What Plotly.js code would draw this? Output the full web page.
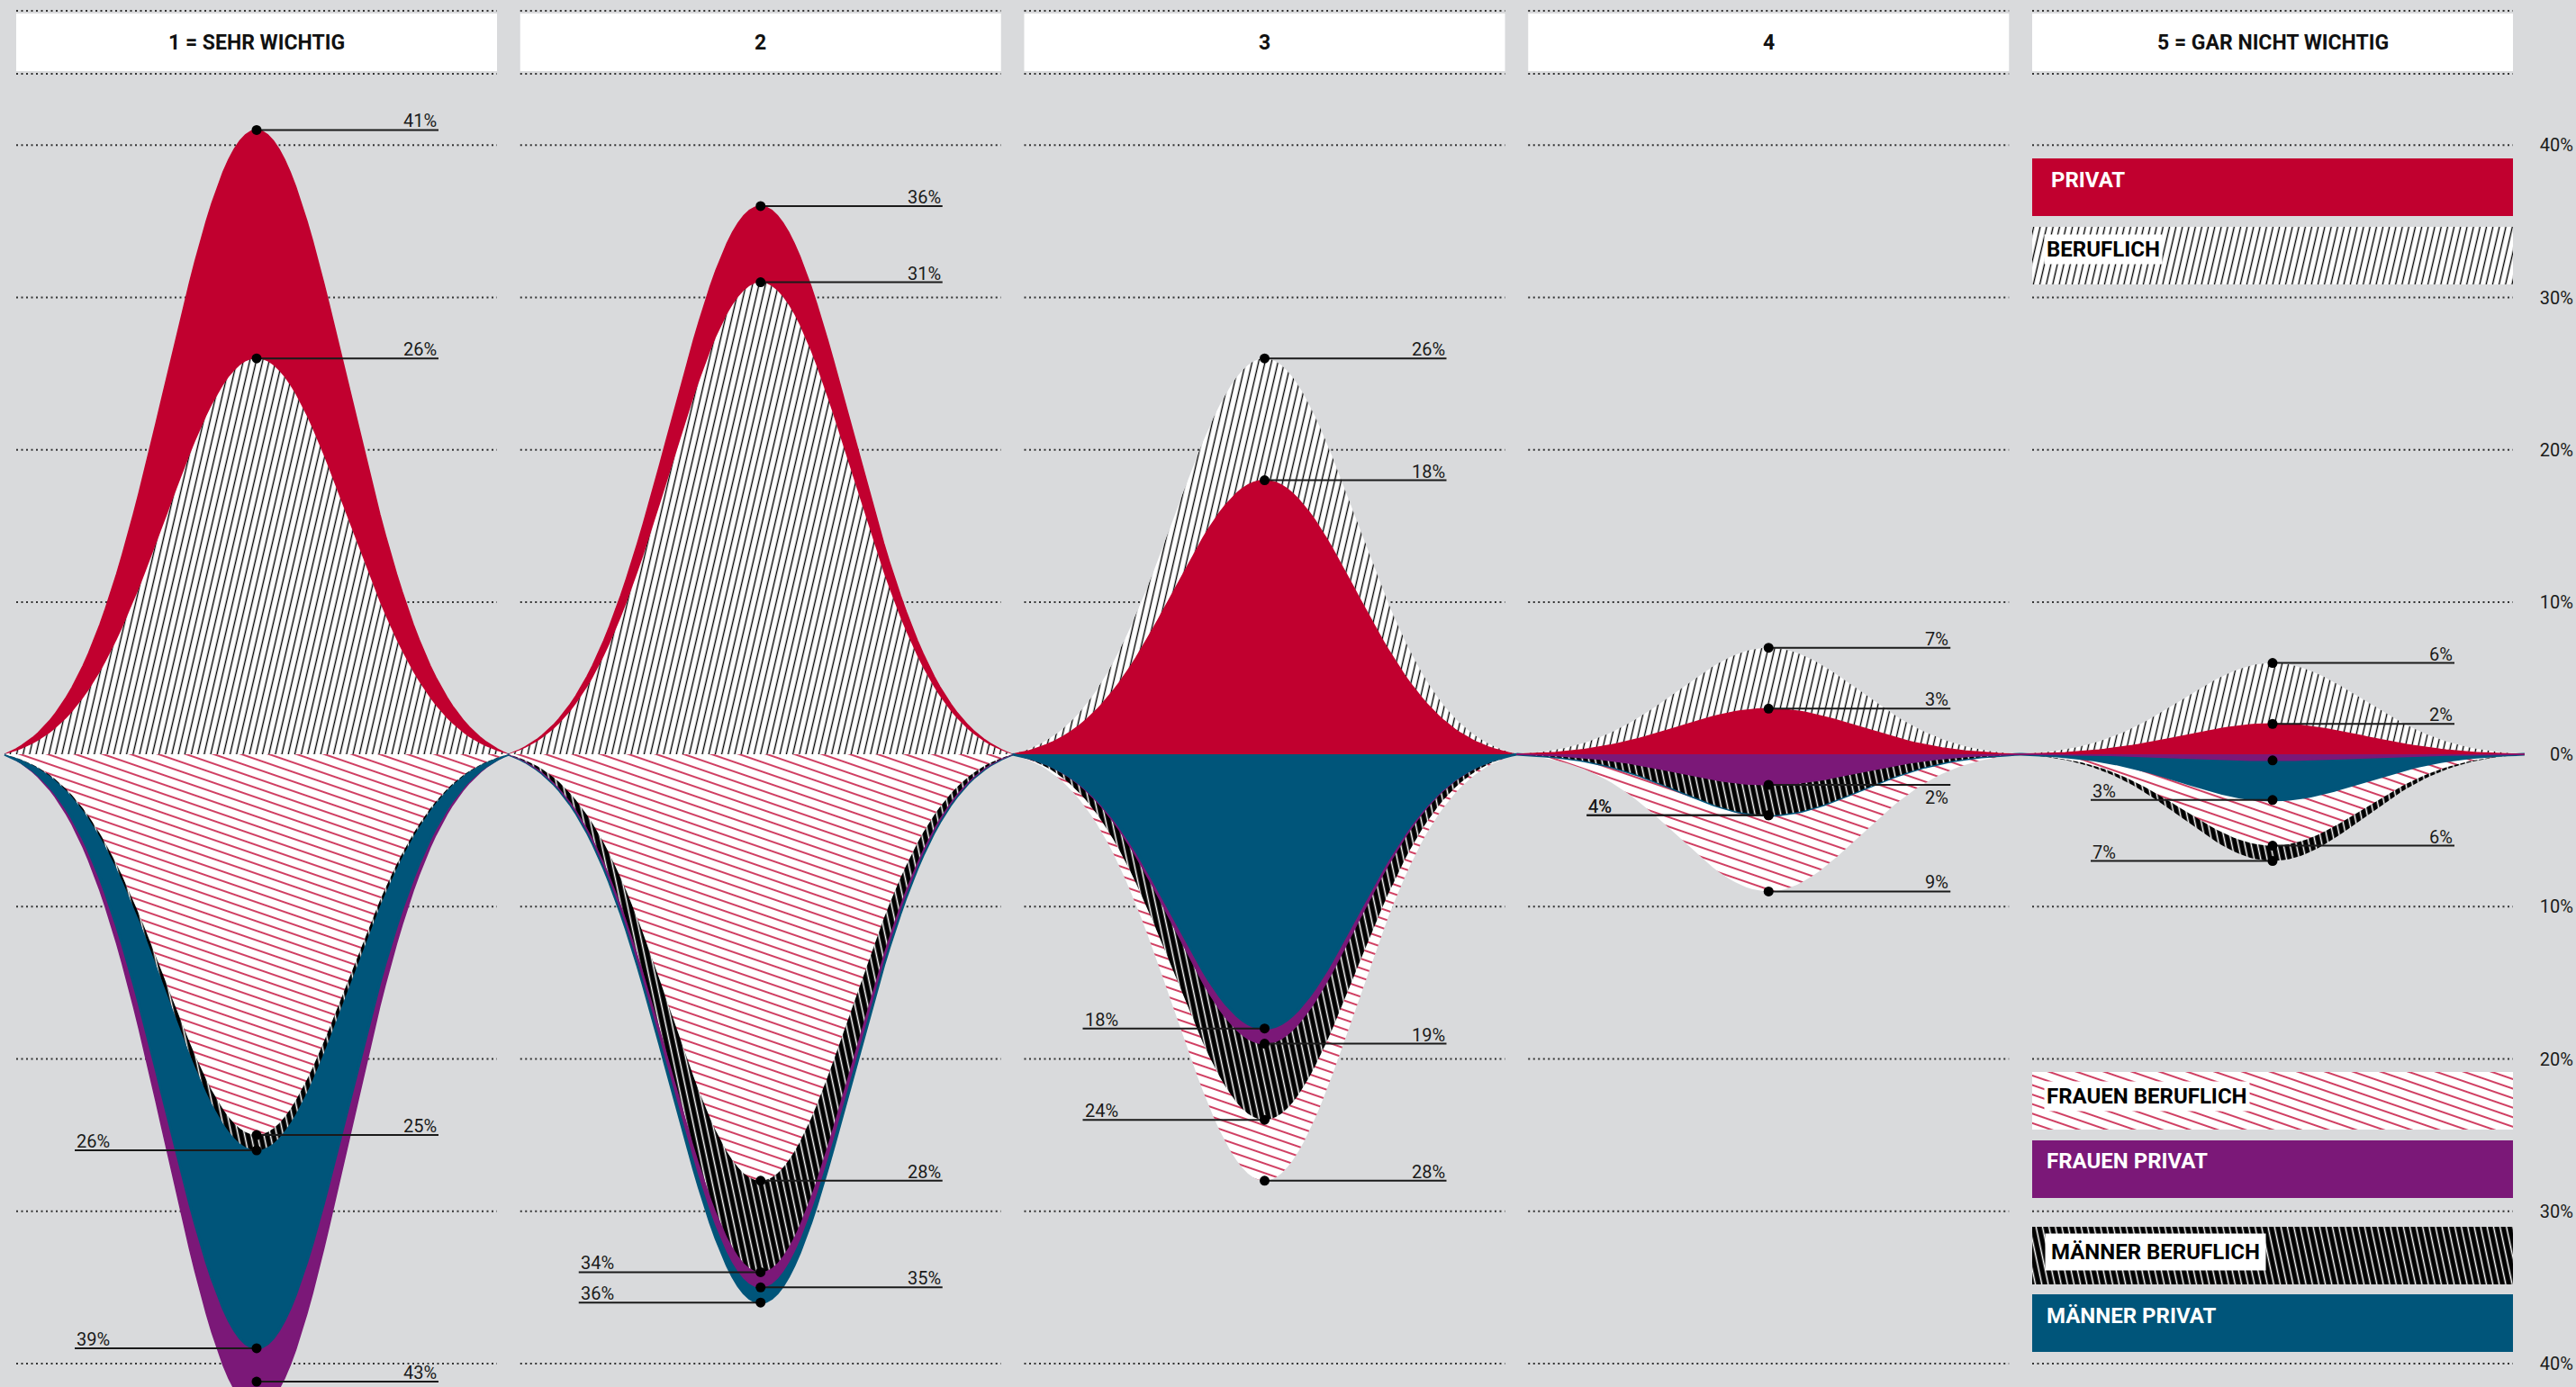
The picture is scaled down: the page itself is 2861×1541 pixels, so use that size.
<!DOCTYPE html>
<html>
<head>
<meta charset="utf-8">
<script src="https://cdn.plot.ly/plotly-3.0.1.min.js"></script>
<style>
html,body{margin:0;padding:0;background:#d9dadc;}
#chart{width:2861px;height:1541px;}
</style>
</head>
<body>
<div id="chart"></div>
<script>
// ---------------- DATA ----------------
const categories = ['1 = SEHR WICHTIG', '2', '3', '4', '5 = GAR NICHT WICHTIG'];
const privat           = [41, 36, 18, 3, 2];
const beruflich        = [26, 31, 26, 7, 6];
const frauenBeruflich  = [25, 28, 28, 9, 6];
const frauenPrivat     = [43, 35, 19, 2, 0.4];
const maennerBeruflich = [26, 34, 24, 4, 7];
const maennerPrivat    = [39, 36, 18, 4, 3];
const tickValues = [40, 30, 20, 10, 0, -10, -20, -30, -40];
const tickLabels = ['40%', '30%', '20%', '10%', '0%', '10%', '20%', '30%', '40%'];
const legendLabels = ['PRIVAT', 'BERUFLICH', 'FRAUEN BERUFLICH', 'FRAUEN PRIVAT', 'MÄNNER BERUFLICH', 'MÄNNER PRIVAT'];

// ---------------- STYLE / LAYOUT ----------------
const W = 2861, H = 1541;
const X1PX = 285, PXPERX = 559.75;      // pixel of category 1, pixels per category
const Y0PX = 838.1, PXPERY = 16.92;     // pixel of 0 %, pixels per percent
const px = p => 1 + (p - X1PX) / PXPERX;
const py = p => (Y0PX - p) / PXPERY;
const xRange = [px(0), px(W)];
const yRange = [py(H), py(0)];
const PANEL_W = 534 / PXPERX;
const LABEL_LEN = 202 / PXPERX;
const FONT = 'Roboto, "Open Sans", "DejaVu Sans", sans-serif';
const RED = '#c1002f', PURPLE = '#7b1878', BLUE = '#00557a', BG = '#d9dadc', INK = '#1a1a1a';

const HATCH_BERUF  = {shape: '|', bgcolor: '#ffffff', fgcolor: '#000000', size: 7, solidity: 0.2, fillmode: 'replace'};
const HATCH_FRAUEN = {shape: '-', bgcolor: '#ffffff', fgcolor: RED, size: 10, solidity: 0.15, fillmode: 'replace'};
const HATCH_MAENNER= {shape: '|', bgcolor: '#000000', fgcolor: '#ffffff', size: 7, solidity: 0.22, fillmode: 'replace'};

const series = [
  {name: legendLabels[0], values: privat,           sign:  1, side: 'right', color: RED,    lineW: 1.5},
  {name: legendLabels[1], values: beruflich,        sign:  1, side: 'right', pattern: HATCH_BERUF},
  {name: legendLabels[2], values: frauenBeruflich,  sign: -1, side: 'right', pattern: HATCH_FRAUEN},
  {name: legendLabels[3], values: frauenPrivat,     sign: -1, side: 'right', color: PURPLE, lineW: 1.5},
  {name: legendLabels[4], values: maennerBeruflich, sign: -1, side: 'left',  pattern: HATCH_MAENNER},
  {name: legendLabels[5], values: maennerPrivat,    sign: -1, side: 'left',  color: BLUE,   lineW: 3}
];
// labels that sit below their leader line: [series index, category index]
const labelsBelow = [[3, 3]];

// bump glyph: a bell shaped outline spanning one category slot
const SIGMA = 0.36, NPTS = 91;
function bump(t) {
  const e1 = Math.exp(-1 / (2 * SIGMA * SIGMA));
  return (Math.exp(-t * t / (2 * SIGMA * SIGMA)) - e1) / (1 - e1);
}

const traces = [];
categories.forEach((cat, ci) => {
  const c = ci + 1;
  const order = series.map((s, si) => si).sort((a, b) => {
    const d = series[b].values[ci] - series[a].values[ci];
    if (d !== 0) return d;
    return (series[a].pattern ? 1 : 0) - (series[b].pattern ? 1 : 0);
  });
  order.forEach(si => {
    const s = series[si];
    const v = s.values[ci];
    const xs = [], ys = [];
    for (let k = 0; k < NPTS; k++) {
      const t = -1 + 2 * k / (NPTS - 1);
      xs.push(c + 0.5 * t);
      ys.push(s.sign * v * bump(t));
    }
    const tr = {
      type: 'scatter', mode: 'lines', x: xs, y: ys, fill: 'tozeroy',
      hoverinfo: 'skip', showlegend: false, name: s.name
    };
    if (s.pattern) {
      tr.line = {width: 0, color: 'rgba(0,0,0,0)'};
      tr.fillcolor = s.pattern.bgcolor;
      tr.fillpattern = Object.assign({}, s.pattern);
    } else {
      tr.line = {width: s.lineW, color: s.color};
      tr.fillcolor = s.color;
    }
    traces.push(tr);
  });
});

// leader lines, dots and value labels
const lx = [], ly = [], dx = [], dy = [];
const annotations = [];
series.forEach((s, si) => {
  s.values.forEach((v, ci) => {
    const c = ci + 1;
    const yv = Math.max(s.sign * v, yRange[0] + 0.35);
    dx.push(c); dy.push(yv);
    if (v < 1) return;
    const xe = s.side === 'right' ? c + LABEL_LEN : c - LABEL_LEN;
    lx.push(c, xe, null); ly.push(yv, yv, null);
    const below = labelsBelow.some(p => p[0] === si && p[1] === ci);
    annotations.push({
      x: xe, y: yv, xref: 'x', yref: 'y', text: v + '%', showarrow: false,
      xanchor: s.side === 'right' ? 'right' : 'left',
      yanchor: below ? 'top' : 'bottom', yshift: below ? 0 : -4,
      font: {family: FONT, size: 20, color: INK}
    });
  });
});
traces.push({type: 'scatter', mode: 'lines', x: lx, y: ly, line: {color: INK, width: 2},
  hoverinfo: 'skip', showlegend: false, cliponaxis: false});
traces.push({type: 'scatter', mode: 'markers', x: dx, y: dy, marker: {color: '#000', size: 11},
  hoverinfo: 'skip', showlegend: false, cliponaxis: false});

// legend boxes (in the 5th column)
const legendBoxes = [
  {top: 176, bottom: 240, textY: 200, textX: 2276, fill: RED, textColor: '#fff'},
  {top: 252, bottom: 316, textY: 277, textX: 2270, pattern: HATCH_BERUF, textColor: '#000', textBg: '#fff', pad: 2},
  {top: 1191, bottom: 1255, textY: 1218, textX: 2270, pattern: HATCH_FRAUEN, textColor: '#000', textBg: '#fff', pad: 2},
  {top: 1267, bottom: 1331, textY: 1290, textX: 2271, fill: PURPLE, textColor: '#fff'},
  {top: 1363, bottom: 1427, textY: 1391, textX: 2271, pattern: HATCH_MAENNER, textColor: '#000', textBg: '#fff', pad: 6},
  {top: 1438, bottom: 1502, textY: 1462, textX: 2271, fill: BLUE, textColor: '#fff'}
];
const lastC = categories.length;
legendBoxes.forEach((b, i) => {
  const tr = {
    type: 'bar', orientation: 'h', x: [PANEL_W], base: [lastC - PANEL_W / 2],
    y: [(py(b.top) + py(b.bottom)) / 2], width: [(b.bottom - b.top) / PXPERY],
    hoverinfo: 'skip', showlegend: false,
    marker: {color: b.fill || b.pattern.bgcolor, line: {width: 0}}
  };
  if (b.pattern) tr.marker.pattern = Object.assign({}, b.pattern);
  traces.push(tr);
  const ann = {
    x: px(b.textX), y: py(b.textY), xref: 'x', yref: 'y', text: legendLabels[i], showarrow: false,
    xanchor: 'left', yanchor: 'middle',
    font: {family: FONT, size: 24, color: b.textColor, weight: 700}
  };
  if (b.textBg) { ann.bgcolor = b.textBg; ann.borderpad = b.pad; }
  annotations.push(ann);
});

// headers + dotted guides per column
const shapes = [];
const guideLine = {color: '#333333', width: 2, dash: '2px,3.5px'};
categories.forEach((cat, ci) => {
  const c = ci + 1;
  const x0 = c - PANEL_W / 2, x1 = c + PANEL_W / 2;
  shapes.push({type: 'rect', xref: 'x', yref: 'y', x0, x1, y0: py(79), y1: py(15),
    fillcolor: '#ffffff', line: {width: 0}, layer: 'below'});
  [py(12), py(82)].concat(tickValues.filter(v => v !== 0)).forEach(yv => {
    shapes.push({type: 'line', xref: 'x', yref: 'y', x0, x1, y0: yv, y1: yv, line: guideLine, layer: 'below'});
  });
  annotations.push({x: c, y: py(47), xref: 'x', yref: 'y', text: cat, showarrow: false,
    xanchor: 'center', yanchor: 'middle', font: {family: FONT, size: 23, color: '#111', weight: 700}});
});

const layout = {
  width: W, height: H, autosize: false,
  margin: {l: 0, r: 0, t: 0, b: 0, pad: 0},
  paper_bgcolor: BG, plot_bgcolor: BG,
  barmode: 'overlay',
  showlegend: false,
  xaxis: {range: xRange, showgrid: false, zeroline: false, showticklabels: false, showline: false, ticks: '', fixedrange: true},
  yaxis: {range: yRange, side: 'right', ticklabelposition: 'inside', tickvals: tickValues, ticktext: tickLabels,
          tickfont: {family: FONT, size: 20, color: INK}, showgrid: false, zeroline: false, showline: false,
          ticks: '', fixedrange: true},
  shapes, annotations
};

function rotatePatterns() {
  document.querySelectorAll('#chart pattern').forEach(p => {
    const path = p.querySelector('path');
    if (!path) return;
    const stroke = (path.getAttribute('stroke') || '').replace(/\s/g, '');
    let rot;
    if (stroke === 'rgb(0,0,0)') rot = 13;
    else if (stroke === 'rgb(255,255,255)') rot = -12;
    else rot = 19;
    p.setAttribute('patternTransform', 'rotate(' + rot + ')');
  });
}

Plotly.newPlot('chart', traces, layout, {displayModeBar: false, staticPlot: true}).then(gd => {
  rotatePatterns();
  gd.on('plotly_afterplot', rotatePatterns);
});
</script>
</body>
</html>
